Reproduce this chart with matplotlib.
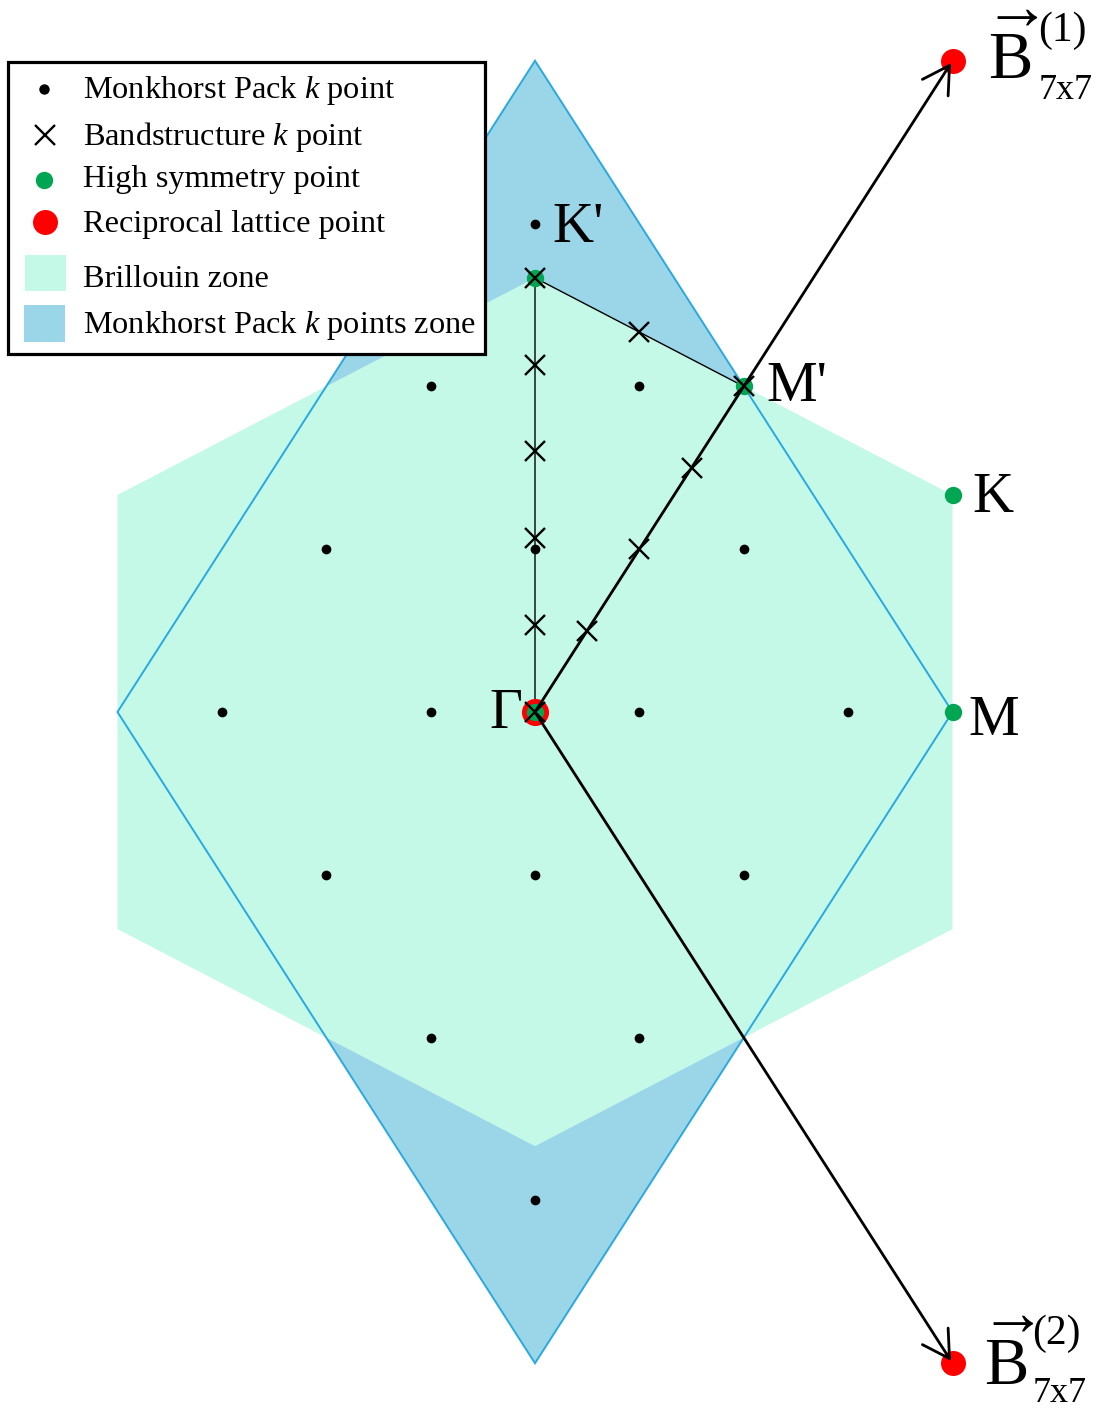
import numpy as np
import matplotlib
matplotlib.use('Agg')
import matplotlib.pyplot as plt
from matplotlib.patches import Polygon, Rectangle, FancyArrowPatch

plt.rcParams['font.family'] = ['Liberation Serif', 'DejaVu Serif']
plt.rcParams['mathtext.fontset'] = 'custom'
plt.rcParams['mathtext.rm'] = 'Liberation Serif'
plt.rcParams['mathtext.it'] = 'Liberation Serif:italic'
plt.rcParams['mathtext.bf'] = 'Liberation Serif:bold'

# ---------------- data ----------------
# reciprocal lattice vectors of the 7x7 cell (cartesian, units of |b|)
b1 = np.array([0.5, np.sqrt(3) / 2])
b2 = np.array([0.5, -np.sqrt(3) / 2])

# Monkhorst-Pack 4x4 grid, fractional coordinates along b1 and b2
mp_frac = [-3 / 8, -1 / 8, 1 / 8, 3 / 8]

# high symmetry points (fractional coords s, t)
hs_names = ['Γ', 'K', 'M', "K'", "M'"]
hs_s = [0.0, 2 / 3, 1 / 2, 1 / 3, 1 / 2]
hs_t = [0.0, 1 / 3, 1 / 2, -1 / 3, 0.0]

# band structure path Γ -> K' -> M' -> Γ (fractional coords)
path_s = [0.0, 1 / 3, 1 / 2, 0.0]
path_t = [0.0, -1 / 3, 0.0, 0.0]
band_s = [0.0, 1 / 15, 2 / 15, 3 / 15, 4 / 15, 1 / 3, 5 / 12, 1 / 2, 3 / 8, 1 / 4, 1 / 8]
band_t = [0.0, -1 / 15, -2 / 15, -3 / 15, -4 / 15, -1 / 3, -1 / 6, 0.0, 0.0, 0.0, 0.0]

# reciprocal lattice points
rl_s = [0.0, 1.0, 0.0]
rl_t = [0.0, 0.0, 1.0]

# Brillouin zone corners (angle in degrees, radius 1/sqrt(3))
bz_angles = [30, 90, 150, 210, 270, 330]
bz_radius = 1 / np.sqrt(3)

# Monkhorst-Pack k-points zone corners (fractional)
mpz_s = [0.5, 0.5, -0.5, -0.5]
mpz_t = [0.5, -0.5, -0.5, 0.5]

legend_labels = ['Monkhorst Pack $k$ point', 'Bandstructure $k$ point',
                 'High symmetry point', 'Reciprocal lattice point',
                 'Brillouin zone', 'Monkhorst Pack $k$ points zone']

# ---------------- colours ----------------
C_BZ = '#c4f9e8'
C_MP = '#9ad6e8'
C_EDGE = '#2aa8e0'
C_GREEN = '#00a651'
C_RED = '#ff0000'


def cart(s, t):
    s = np.asarray(s, float)
    t = np.asarray(t, float)
    return s * b1[0] + t * b2[0], s * b1[1] + t * b2[1]


W, H = 1105, 1410
fig = plt.figure(figsize=(W / 100, H / 100), dpi=100)
ax = fig.add_axes([0, 0, 1, 1])
ax.set_xlim(-535 / 835, 570 / 835)
ax.set_ylim(-698 / 752, 712 / 752)
ax.axis('off')

# MP zone (rhombus) fill
rx, ry = cart(mpz_s, mpz_t)
ax.add_patch(Polygon(np.column_stack([rx, ry]), closed=True, fc=C_MP, ec='none', zorder=1))
# Brillouin zone
ang = np.radians(bz_angles)
ax.add_patch(Polygon(np.column_stack([bz_radius * np.cos(ang), bz_radius * np.sin(ang)]),
                     closed=True, fc=C_BZ, ec='none', zorder=2))
# rhombus edge
ax.add_patch(Polygon(np.column_stack([rx, ry]), closed=True, fc='none', ec=C_EDGE, lw=1.4, zorder=3))

# band path
px, py = cart(path_s, path_t)
ax.plot(px, py, color='black', lw=1.0, zorder=4)

# reciprocal lattice points
lx, ly = cart(rl_s, rl_t)
ax.plot(lx[1:], ly[1:], 'o', color=C_RED, ms=18, mew=0, zorder=5)
ax.plot(lx[:1], ly[:1], 'o', color=C_RED, ms=19.5, mew=0, zorder=5)

# high symmetry points
hx, hy = cart(hs_s, hs_t)
ax.plot(hx, hy, 'o', color=C_GREEN, ms=12.5, mew=0, zorder=6)

# arrows to reciprocal lattice points
for i in (1, 2):
    ax.add_patch(FancyArrowPatch((lx[0], ly[0]), (lx[i], ly[i]),
                                 arrowstyle='->,head_length=0.95,head_width=0.55',
                                 mutation_scale=20, lw=2.0, color='black',
                                 shrinkA=0, shrinkB=2, zorder=7))

# MP points
g = np.array([(s, t) for s in mp_frac for t in mp_frac])
mx, my = cart(g[:, 0], g[:, 1])
ax.plot(mx, my, 'o', color='black', ms=7, mew=0, zorder=8)

# band structure k points
bx, by = cart(band_s, band_t)
ax.plot(bx, by, 'x', color='black', ms=14, mew=1.7, zorder=9)

# labels
lab_off = {'Γ': (-13, -16, 'right'), 'K': (20, -17, 'left'), 'M': (16, -23, 'left'),
           "K'": (17, 36, 'left'), "M'": (23, -15, 'left')}
for n, x, y in zip(hs_names, hx, hy):
    dx, dy, ha = lab_off[n]
    ax.annotate(n, (x, y), xytext=(dx, dy), textcoords='offset pixels',
                ha=ha, va='baseline', fontsize=41, zorder=10)

# B labels
b_off = [((36, -18), (86, 20), (86, -38), '(1)'), ((31, -22), (80, 19), (80, -39), '(2)')]
for i, (o_b, o_sup, o_sub, sup) in zip((1, 2), b_off):
    ax.annotate(r'$\overrightarrow{\mathrm{B}}$', (lx[i], ly[i]), xytext=o_b,
                textcoords='offset pixels', ha='left', va='baseline', fontsize=48, zorder=10)
    ax.annotate(sup, (lx[i], ly[i]), xytext=o_sup, textcoords='offset pixels',
                ha='left', va='baseline', fontsize=30, zorder=10)
    ax.annotate('7x7', (lx[i], ly[i]), xytext=o_sub, textcoords='offset pixels',
                ha='left', va='baseline', fontsize=26, zorder=10)

# ---------------- legend (drawn manually) ----------------
T = ax.transAxes


def fx(x):
    return x / W


def fy(y):
    return 1 - y / H


ax.add_patch(Rectangle((fx(8), fy(354)), 477 / W, 292 / H, transform=T,
                       fc='white', ec='black', lw=2.3, zorder=20, clip_on=False))
ax.plot([fx(44)], [fy(89)], 'o', color='black', ms=7.5, mew=0, transform=T, zorder=21, clip_on=False)
ax.plot([fx(45)], [fy(135)], 'x', color='black', ms=14, mew=1.7, transform=T, zorder=21, clip_on=False)
ax.plot([fx(44)], [fy(180)], 'o', color=C_GREEN, ms=12.5, mew=0, transform=T, zorder=21, clip_on=False)
ax.plot([fx(45)], [fy(222)], 'o', color=C_RED, ms=18, mew=0, transform=T, zorder=21, clip_on=False)
ax.add_patch(Rectangle((fx(25), fy(291)), 41 / W, 36 / H, transform=T, fc=C_BZ, ec='none',
                       zorder=21, clip_on=False))
ax.add_patch(Rectangle((fx(24), fy(342)), 41 / W, 37 / H, transform=T, fc=C_MP, ec='none',
                       zorder=21, clip_on=False))
baselines = [98, 145, 187, 232, 287, 333]
for lab, yb in zip(legend_labels, baselines):
    ax.text(fx(83), fy(yb), lab, transform=T, ha='left', va='baseline', fontsize=23.3, zorder=22)

fig.savefig('out.png', dpi=100)
